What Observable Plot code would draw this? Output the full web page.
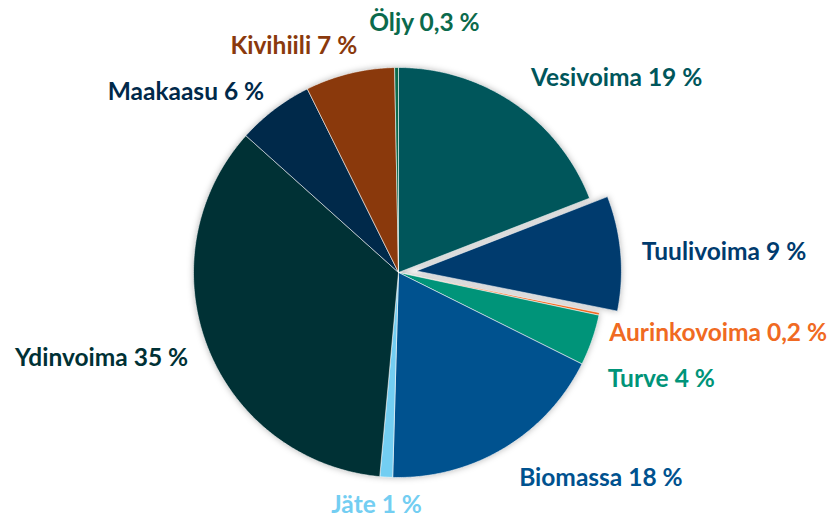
<!DOCTYPE html>
<html><head><meta charset="utf-8">
<script src="https://cdn.jsdelivr.net/npm/d3@7"></script>
<script src="https://cdn.jsdelivr.net/npm/@observablehq/plot@0.6"></script>
<style>
html,body{margin:0;padding:0;background:#fff;}
#chart svg{display:block;}
#chart g[aria-label="line"]{filter:drop-shadow(0 0 3px rgba(0,0,0,0.28));}
</style></head><body><div id="chart"></div>
<script>
// ---- data ----
const sources = ["Vesivoima","Tuulivoima","Aurinkovoima","Turve","Biomassa","Jäte","Ydinvoima","Maakaasu","Kivihiili","Öljy"];
const shares = [19, 9, 0.2, 4, 18, 1, 35, 6, 7, 0.3];
const shareLabels = ["19","9","0,2","4","18","1","35","6","7","0,3"];
const colors = ["#00565B","#003B6E","#F06A22","#009479","#00528F","#73CEF2","#003135","#00294A","#8A390C","#0B6A4C"];
const explodedSources = ["Tuulivoima"];

// ---- layout ----
const W = 832, H = 518, cx = 398, cy = 272, R = 205;
const explodeDist = 18 / R;
const labelRadius = 1.05;
// per-label nudges in pixels (like a spreadsheet's manual label placement)
const labelNudge = [[11,-17],[11,0],[0,17],[6,36],[10,21],[-9,18],[-10,7],[-4,-9],[10,-17],[28,-34]];

const data = sources.map((s, i) => ({source: s, share: shares[i], label: `${s} ${shareLabels[i]} %`, color: colors[i], i}));
const arcs = d3.pie().sort(null).value(d => d.share).startAngle(0).endAngle(2 * Math.PI)(data);

const polys = [];
const labels = [];
for (const a of arcs) {
  const mid = (a.startAngle + a.endAngle) / 2;
  const off = explodedSources.includes(a.data.source) ? explodeDist : 0;
  const ox = off * Math.sin(mid), oy = off * Math.cos(mid);
  const steps = Math.max(2, Math.ceil((a.endAngle - a.startAngle) / (Math.PI / 360)));
  polys.push({source: a.data.source, x: ox, y: oy});
  for (let k = 0; k <= steps; k++) {
    const t = a.startAngle + (a.endAngle - a.startAngle) * k / steps;
    polys.push({source: a.data.source, x: ox + Math.sin(t), y: oy + Math.cos(t)});
  }
  polys.push({source: a.data.source, x: ox, y: oy});
  const s = Math.sin(mid);
  const anchor = s > 0.15 ? "start" : s < -0.15 ? "end" : "middle";
  const [ndx, ndy] = labelNudge[a.data.i];
  labels.push({
    label: a.data.label, color: a.data.color, anchor,
    x: (labelRadius + off) * Math.sin(mid) + ndx / R,
    y: (labelRadius + off) * Math.cos(mid) - ndy / R
  });
}

const textOpts = (anchor) => ({
  x: "x", y: "y", text: "label", fill: "color", textAnchor: anchor,
  fontSize: 24.5, fontWeight: "bold", fontFamily: "Lato, 'Open Sans', sans-serif",
  lineAnchor: "middle"
});

const chart = Plot.plot({
  width: W, height: H,
  marginTop: 0, marginRight: 0, marginBottom: 0, marginLeft: 0,
  x: {domain: [-cx / R, (W - cx) / R], axis: null},
  y: {domain: [-(H - cy) / R, cy / R], axis: null},
  color: {domain: sources, range: colors},
  marks: [
    Plot.line(polys, {x: "x", y: "y", z: "source", fill: "source", stroke: "#ffffff", strokeWidth: 0.8, strokeOpacity: 0.7, curve: "linear"}),
    Plot.text(labels.filter(d => d.anchor === "start"), textOpts("start")),
    Plot.text(labels.filter(d => d.anchor === "end"), textOpts("end")),
    Plot.text(labels.filter(d => d.anchor === "middle"), textOpts("middle"))
  ]
});
document.getElementById("chart").appendChild(chart);
</script></body></html>
